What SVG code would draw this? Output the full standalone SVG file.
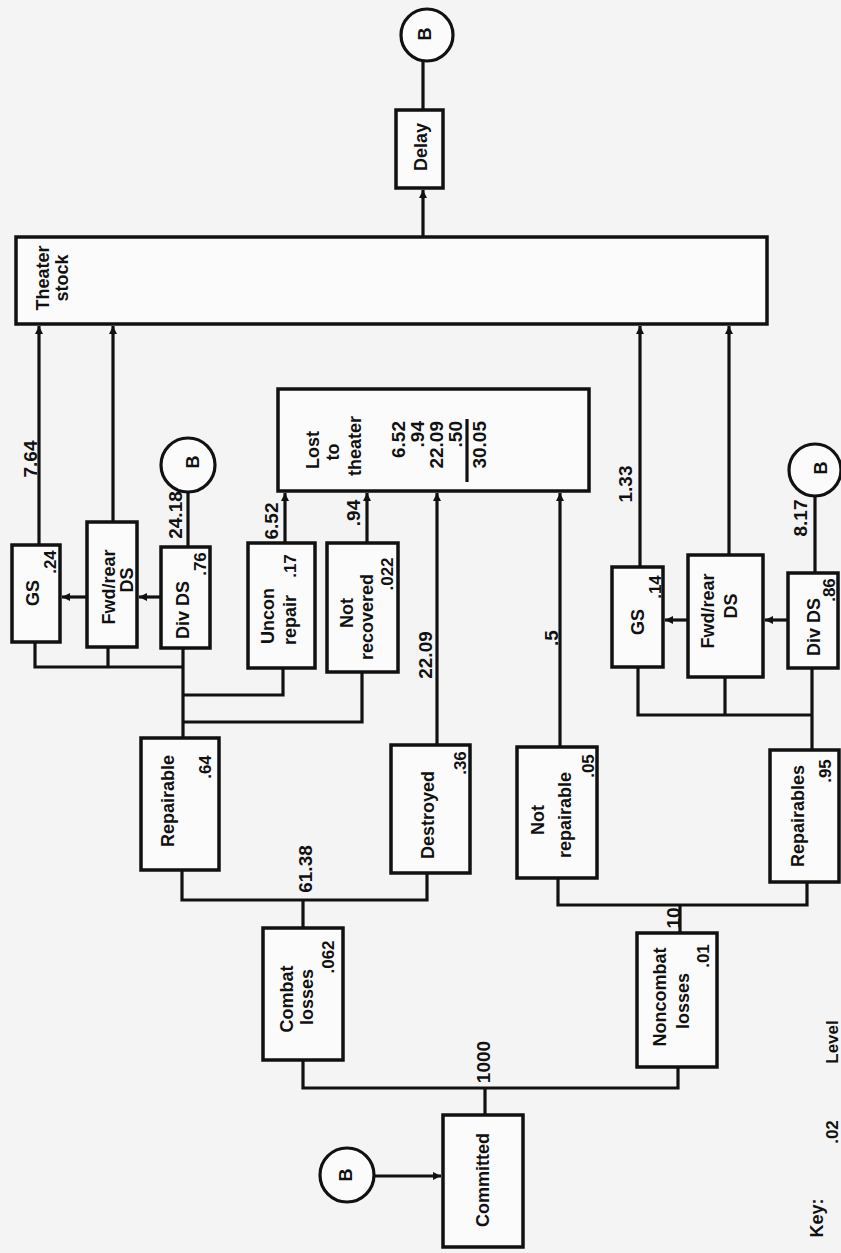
<svg xmlns="http://www.w3.org/2000/svg" width="841" height="1253" viewBox="0 0 841 1253">
<style>
.bg{fill:#f4f4f4}
.box{fill:#fbfbfb;stroke:#111;stroke-width:3.5}
.circ{fill:#fbfbfb;stroke:#111;stroke-width:3.2}
.ln{fill:none;stroke:#111;stroke-width:3.2}
.t{font-family:"Liberation Sans",Arial,sans-serif;font-weight:bold;font-size:18px;fill:#111;text-anchor:middle;dominant-baseline:central}
.n{font-family:"Liberation Sans",Arial,sans-serif;font-weight:bold;font-size:19px;fill:#111;text-anchor:middle;dominant-baseline:central}
.v{font-family:"Liberation Sans",Arial,sans-serif;font-weight:bold;font-size:17px;fill:#111;text-anchor:middle;dominant-baseline:central}
.e{text-anchor:end}
</style>
<defs>
<marker id="ah" viewBox="0 0 10 10" refX="10" refY="5" markerWidth="9" markerHeight="8" markerUnits="userSpaceOnUse" orient="auto">
<path d="M0,0 L10,5 L0,10 z" fill="#111"/>
</marker>
</defs>
<rect class="bg" x="0" y="0" width="841" height="1253"/>

<g id="connectors">
<path class="ln" d="M423,237 V190" marker-end="url(#ah)"/>
<path class="ln" d="M423,110 V61"/>
<path class="ln" d="M39,545 V326" marker-end="url(#ah)"/>
<path class="ln" d="M113,522 V326" marker-end="url(#ah)"/>
<path class="ln" d="M188,547 V492"/>
<path class="ln" d="M161,597 H139" marker-end="url(#ah)"/>
<path class="ln" d="M87,597 H62" marker-end="url(#ah)"/>
<path class="ln" d="M35,642 V667 H183 M108,647 V667 M183,648 V738"/>
<path class="ln" d="M183,695 H283 V668"/>
<path class="ln" d="M183,722 H362 V672"/>
<path class="ln" d="M285,543 V493" marker-end="url(#ah)"/>
<path class="ln" d="M367,543 V493" marker-end="url(#ah)"/>
<path class="ln" d="M437,745 V493" marker-end="url(#ah)"/>
<path class="ln" d="M560,747 V493" marker-end="url(#ah)"/>
<path class="ln" d="M182,870 V900 H427 V873 M303,900 V928"/>
<path class="ln" d="M640,567 V326" marker-end="url(#ah)"/>
<path class="ln" d="M729,555 V326" marker-end="url(#ah)"/>
<path class="ln" d="M815,573 V496"/>
<path class="ln" d="M788,620 H765" marker-end="url(#ah)"/>
<path class="ln" d="M688,620 H665" marker-end="url(#ah)"/>
<path class="ln" d="M638,667 V715 H812 M725,677 V715 M812,668 V750"/>
<path class="ln" d="M558,878 V905 H807 V882 M680,905 V933"/>
<path class="ln" d="M303,1060 V1088 H678 V1067 M485,1088 V1115"/>
<path class="ln" d="M374,1176 H441" marker-end="url(#ah)"/>
</g>

<g id="edge-labels">
<text class="n" x="30" y="459" transform="rotate(-90 30 459)">7.64</text>
<text class="n" x="175" y="515" transform="rotate(-90 175 515)">24.18</text>
<text class="n" x="271" y="521" transform="rotate(-90 271 521)">6.52</text>
<text class="n" x="353" y="513" transform="rotate(-90 353 513)">.94</text>
<text class="n" x="425" y="655" transform="rotate(-90 425 655)">22.09</text>
<text class="n" x="551" y="638" transform="rotate(-90 551 638)">.5</text>
<text class="n" x="625" y="484" transform="rotate(-90 625 484)">1.33</text>
<text class="n" x="800" y="518" transform="rotate(-90 800 518)">8.17</text>
<text class="n" x="305" y="869" transform="rotate(-90 305 869)">61.38</text>
<text class="n" x="673" y="918" transform="rotate(-90 673 918)">10</text>
<text class="n" x="483" y="1062" transform="rotate(-90 483 1062)">1000</text>
</g>

<g id="theater-stock">
<rect class="box" x="16" y="237" width="751" height="87"/>
<text class="t" x="43" y="278" transform="rotate(-90 43 278)" font-size="19">Theater</text>
<text class="t" x="62" y="278" transform="rotate(-90 62 278)" font-size="19">stock</text>
</g>

<g id="delay">
<rect class="box" x="396" y="110" width="47" height="78"/>
<text class="t" x="421" y="147" transform="rotate(-90 421 147)">Delay</text>
</g>

<g id="b-top">
<circle class="circ" cx="427" cy="35" r="26"/>
<text class="t" x="425" y="34" transform="rotate(-90 425 34)" font-size="16">B</text>
</g>

<g id="lost-to-theater">
<rect class="box" x="278" y="389" width="311" height="102"/>
<text class="t" x="313" y="450" transform="rotate(-90 313 450)" font-size="19">Lost</text>
<text class="t" x="333" y="452" transform="rotate(-90 333 452)" font-size="19">to</text>
<text class="t" x="355" y="446" transform="rotate(-90 355 446)" font-size="19">theater</text>
<text class="n e" x="398" y="421" transform="rotate(-90 398 421)">6.52</text>
<text class="n e" x="417" y="421" transform="rotate(-90 417 421)">.94</text>
<text class="n e" x="436" y="421" transform="rotate(-90 436 421)">22.09</text>
<text class="n e" x="455" y="421" transform="rotate(-90 455 421)">.50</text>
<line class="ln" x1="467" y1="419" x2="467" y2="482" stroke-width="2.5"/>
<text class="n e" x="479" y="421" transform="rotate(-90 479 421)">30.05</text>
</g>

<g id="gs-1">
<rect class="box" x="12" y="545" width="48" height="97"/>
<text class="t" x="33" y="593" transform="rotate(-90 33 593)">GS</text>
<text class="v" x="50" y="562" transform="rotate(-90 50 562)">.24</text>
</g>

<g id="fwd-rear-ds-1">
<rect class="box" x="87" y="522" width="50" height="125"/>
<text class="t" x="109" y="587" transform="rotate(-90 109 587)">Fwd/rear</text>
<text class="t" x="127" y="580" transform="rotate(-90 127 580)">DS</text>
</g>

<g id="div-ds-1">
<rect class="box" x="161" y="547" width="49" height="101"/>
<text class="t" x="183" y="610" transform="rotate(-90 183 610)">Div DS</text>
<text class="v" x="200" y="564" transform="rotate(-90 200 564)">.76</text>
</g>

<g id="b-left">
<circle class="circ" cx="188" cy="465" r="27"/>
<text class="t" x="193" y="462" transform="rotate(-90 193 462)" font-size="16">B</text>
</g>

<g id="uncon-repair">
<rect class="box" x="248" y="543" width="67" height="125"/>
<text class="t" x="268" y="616" transform="rotate(-90 268 616)">Uncon</text>
<text class="t" x="290" y="620" transform="rotate(-90 290 620)">repair</text>
<text class="v" x="290" y="566" transform="rotate(-90 290 566)">.17</text>
</g>

<g id="not-recovered">
<rect class="box" x="327" y="543" width="71" height="129"/>
<text class="t" x="347" y="613" transform="rotate(-90 347 613)">Not</text>
<text class="t" x="367" y="617" transform="rotate(-90 367 617)">recovered</text>
<text class="v" x="387" y="574" transform="rotate(-90 387 574)">.022</text>
</g>

<g id="repairable">
<rect class="box" x="141" y="738" width="78" height="132"/>
<text class="t" x="168" y="801" transform="rotate(-90 168 801)">Repairable</text>
<text class="v" x="205" y="767" transform="rotate(-90 205 767)">.64</text>
</g>

<g id="destroyed">
<rect class="box" x="391" y="745" width="79" height="128"/>
<text class="t" x="428" y="815" transform="rotate(-90 428 815)">Destroyed</text>
<text class="v" x="460" y="763" transform="rotate(-90 460 763)">.36</text>
</g>

<g id="not-repairable">
<rect class="box" x="517" y="747" width="80" height="131"/>
<text class="t" x="538" y="820" transform="rotate(-90 538 820)">Not</text>
<text class="t" x="565" y="815" transform="rotate(-90 565 815)">repairable</text>
<text class="v" x="588" y="766" transform="rotate(-90 588 766)">.05</text>
</g>

<g id="combat-losses">
<rect class="box" x="263" y="928" width="80" height="132"/>
<text class="t" x="287" y="999" transform="rotate(-90 287 999)">Combat</text>
<text class="t" x="307" y="997" transform="rotate(-90 307 997)">losses</text>
<text class="v" x="328" y="957" transform="rotate(-90 328 957)">.062</text>
</g>

<g id="gs-2">
<rect class="box" x="612" y="567" width="51" height="100"/>
<text class="t" x="638" y="622" transform="rotate(-90 638 622)">GS</text>
<text class="v" x="655" y="587" transform="rotate(-90 655 587)">.14</text>
</g>

<g id="fwd-rear-ds-2">
<rect class="box" x="688" y="555" width="75" height="122"/>
<text class="t" x="708" y="611" transform="rotate(-90 708 611)">Fwd/rear</text>
<text class="t" x="731" y="606" transform="rotate(-90 731 606)">DS</text>
</g>

<g id="div-ds-2">
<rect class="box" x="788" y="573" width="50" height="95"/>
<text class="t" x="814" y="627" transform="rotate(-90 814 627)">Div DS</text>
<text class="v" x="829" y="590" transform="rotate(-90 829 590)">.86</text>
</g>

<g id="b-right">
<circle class="circ" cx="815" cy="470" r="26"/>
<text class="t" x="821" y="468" transform="rotate(-90 821 468)" font-size="16">B</text>
</g>

<g id="repairables">
<rect class="box" x="770" y="750" width="69" height="132"/>
<text class="t" x="798" y="816" transform="rotate(-90 798 816)">Repairables</text>
<text class="v" x="825" y="771" transform="rotate(-90 825 771)">.95</text>
</g>

<g id="noncombat-losses">
<rect class="box" x="637" y="933" width="80" height="134"/>
<text class="t" x="660" y="997" transform="rotate(-90 660 997)">Noncombat</text>
<text class="t" x="683" y="1001" transform="rotate(-90 683 1001)">losses</text>
<text class="v" x="703" y="956" transform="rotate(-90 703 956)">.01</text>
</g>

<g id="committed">
<rect class="box" x="443" y="1115" width="80" height="132"/>
<text class="t" x="483" y="1180" transform="rotate(-90 483 1180)">Committed</text>
</g>

<g id="b-bottom">
<circle class="circ" cx="347" cy="1175" r="27"/>
<text class="t" x="346" y="1175" transform="rotate(-90 346 1175)" font-size="16">B</text>
</g>

<g id="key">
<text class="t" x="817" y="1218" transform="rotate(-90 817 1218)">Key:</text>
<text class="v" x="832" y="1132" transform="rotate(-90 832 1132)">.02</text>
<text class="v" x="832" y="1042" transform="rotate(-90 832 1042)">Level</text>
</g>
</svg>
